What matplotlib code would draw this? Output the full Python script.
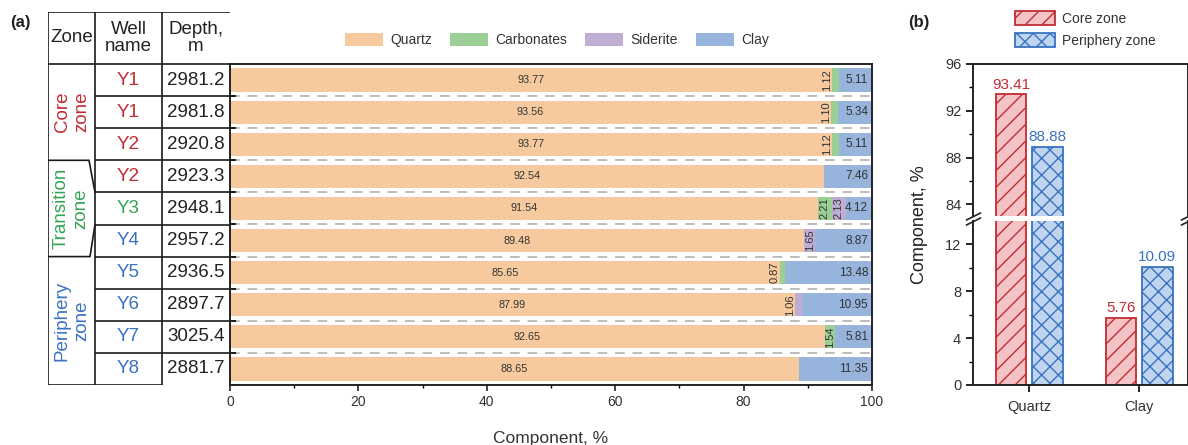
import numpy as np
import matplotlib
matplotlib.use('Agg')
import matplotlib.pyplot as plt
from matplotlib.patches import Patch

plt.rcParams['font.family'] = ['Liberation Sans', 'DejaVu Sans']
plt.rcParams['hatch.linewidth'] = 1.0

# ---- data ----
wells = ['Y1', 'Y1', 'Y2', 'Y2', 'Y3', 'Y4', 'Y5', 'Y6', 'Y7', 'Y8']
depths = ['2981.2', '2981.8', '2920.8', '2923.3', '2948.1', '2957.2',
          '2936.5', '2897.7', '3025.4', '2881.7']
well_zone = ['core', 'core', 'core', 'core', 'trans', 'peri',
             'peri', 'peri', 'peri', 'peri']
quartz = [93.77, 93.56, 93.77, 92.54, 91.54, 89.48, 85.65, 87.99, 92.65, 88.65]
carbonates = [1.12, 1.10, 1.12, 0, 2.21, 0, 0.87, 0, 1.54, 0]
siderite = [0, 0, 0, 0, 2.13, 1.65, 0, 1.06, 0, 0]
clay = [5.11, 5.34, 5.11, 7.46, 4.12, 8.87, 13.48, 10.95, 5.81, 11.35]

comp_names = ['Quartz', 'Clay']
core_vals = [93.41, 5.76]
peri_vals = [88.88, 10.09]

## colours
red = '#c42b33'
green = '#36a455'
blue = '#3a72c2'
zone_col = {'core': red, 'trans': green, 'peri': blue}
c_quartz, c_carb, c_sid, c_clay = '#f6ca9e', '#9bcf96', '#bfaed3', '#96b4dc'
txt = '#333333'

W, H = 1188, 445
fig = plt.figure(figsize=(W / 100, H / 100), dpi=100)

def fx(px):
    return px / W

def fy(py):
    return 1 - py / H

n = len(wells)

# ---- stacked bars (a) ----
ax = fig.add_axes([fx(230), fy(385), fx(642), (385 - 64) / H])
y = np.arange(n)
q = np.array(quartz)
c = np.array(carbonates)
s = np.array(siderite)
cl = np.array(clay)
h = 0.72
ax.barh(y, q, height=h, color=c_quartz, label='Quartz')
ax.barh(y, c, left=q, height=h, color=c_carb, label='Carbonates')
ax.barh(y, s, left=q + c, height=h, color=c_sid, label='Siderite')
ax.barh(y, cl, left=q + c + s, height=h, color=c_clay, label='Clay')

for i in range(n):
    ax.text(q[i] / 2, i, '%.2f' % q[i], ha='center', va='center', fontsize=7.8, color=txt)
    ax.text(99.4, i, '%.2f' % cl[i], ha='right', va='center', fontsize=8.5, color=txt)
    for val, left in ((c[i], q[i]), (s[i], q[i] + c[i])):
        if val <= 0:
            continue
        xpos = left + val / 2 if val > 1.2 else left - 0.75
        ax.text(xpos, i, '%.2f' % val, ha='center', va='center', rotation=90,
                fontsize=8, color=txt)

for b in np.arange(n - 1) + 0.5:
    ax.axhline(b, color='#bdbdbd', lw=1.4, ls=(0, (5, 4)), zorder=0)

ax.set_xlim(0, 100)
ax.set_ylim(n - 0.5, -0.5)
ax.set_xticks(np.arange(0, 101, 20))
ax.set_xticks(np.arange(10, 100, 20), minor=True)
ax.set_yticks(np.arange(n + 1) - 0.5)
ax.set_yticklabels([])
ax.tick_params(axis='x', which='major', direction='out', length=4, width=1.2,
               labelsize=10, colors='#222222', labelcolor=txt)
ax.tick_params(axis='x', which='minor', direction='out', length=2.5, width=1.0)
ax.tick_params(axis='y', direction='in', length=4, width=1.2)
for sp in ax.spines.values():
    sp.set_linewidth(1.4)
    sp.set_color('#222222')
ax.set_xlabel('Component, %', fontsize=12.5, color=txt)
ax.xaxis.set_label_coords(0.5, -(439 - 385) / 321)
ax.xaxis.label.set_va('center')

fig.legend(*ax.get_legend_handles_labels(), loc='center',
           bbox_to_anchor=(fx(557), fy(40)), ncol=4, frameon=False,
           fontsize=10, handlelength=2.75, handleheight=1.15,
           handletextpad=0.5, columnspacing=1.3, labelcolor=txt)

# ---- table on the left ----
tb = fig.add_axes([fx(48), fy(385), fx(182), (385 - 12) / H])
hdr = (64 - 12) / 32.1
tb.set_xlim(0, 182)
tb.set_ylim(0, n + hdr)
tb.axis('off')
lw = 1.2
lk = dict(color='#1a1a1a', lw=lw, solid_capstyle='butt')
tb.plot([0, 182], [n + hdr, n + hdr], **lk)
tb.plot([0, 182], [n, n], **lk)
tb.plot([0, 0], [0, n + hdr], **lk)
tb.plot([47, 47], [0, n + hdr], **lk)
tb.plot([114, 114], [0, n + hdr], **lk)
tb.plot([0, 114], [0, 0], **lk)
for k in range(1, n):
    tb.plot([47, 182], [k, k], **lk)
# zone boxes (transition box has slanted right side)
tb.plot([0, 41, 47], [7, 7, 6], **lk)
tb.plot([47, 42, 0], [5, 4, 4], **lk)

tb.text(23.5, n + hdr / 2, 'Zone', ha='center', va='center', fontsize=13.5, color='#222222')
tb.text(80.5, n + hdr / 2, 'Well\nname', ha='center', va='center', fontsize=13.5,
        color='#222222', linespacing=1.05)
tb.text(148, n + hdr / 2, 'Depth,\nm', ha='center', va='center', fontsize=13.5,
        color='#222222', linespacing=1.05)
for i in range(n):
    yc = n - i - 0.5
    tb.text(80.5, yc, wells[i], ha='center', va='center', fontsize=13.5,
            color=zone_col[well_zone[i]])
    tb.text(148, yc, depths[i], ha='center', va='center', fontsize=13.5, color='#222222')
tb.text(24, 8.5, 'Core\nzone', rotation=90, ha='center', va='center', ma='center',
        fontsize=13.5, color=red, linespacing=1.2)
tb.text(23, 5.5, 'Transition\nzone', rotation=90, ha='center', va='center', ma='center',
        fontsize=13.5, color=green, linespacing=1.2)
tb.text(24, 2, 'Periphery\nzone', rotation=90, ha='center', va='center', ma='center',
        fontsize=13.5, color=blue, linespacing=1.2)

fig.text(fx(10), fy(22), '(a)', fontsize=12, fontweight='bold', va='center', color='#222222')
fig.text(fx(908), fy(22), '(b)', fontsize=12, fontweight='bold', va='center', color='#222222')

# ---- broken-axis bars (b) ----
axu = fig.add_axes([fx(973), fy(216), fx(215), (216 - 64) / H])
axl = fig.add_axes([fx(973), fy(385), fx(215), (385 - 221) / H])
x = np.arange(len(comp_names))
bw, off = 0.28, 0.165
core_style = dict(facecolor='#f4c3c5', edgecolor=red, hatch='//', lw=1.3)
peri_style = dict(facecolor='#bed4ef', edgecolor=blue, hatch='xx', lw=1.3)
for a in (axu, axl):
    a.bar(x - off, core_vals, bw, **core_style)
    a.bar(x + off, peri_vals, bw, **peri_style)
    a.set_xlim(-0.51, 1.445)
    for sp in a.spines.values():
        sp.set_linewidth(1.4)
        sp.set_color('#222222')
    a.tick_params(axis='y', which='major', direction='out', length=5, width=1.2,
                  labelsize=10.5, labelcolor=txt)
    a.tick_params(axis='y', which='minor', direction='out', length=3, width=1.0)

axu.set_ylim(83, 96)
axu.set_yticks([84, 88, 92, 96])
axu.set_yticks([86, 90, 94], minor=True)
axu.spines['bottom'].set_visible(False)
axu.tick_params(axis='x', bottom=False, labelbottom=False)
axl.set_ylim(0, 14)
axl.set_yticks([0, 4, 8, 12])
axl.set_yticks([2, 6, 10], minor=True)
axl.spines['top'].set_visible(False)
axl.set_xticks(x)
axl.set_xticklabels(comp_names)
axl.tick_params(axis='x', direction='out', length=5, width=1.2, labelsize=10.5,
                labelcolor=txt, pad=6)

for i in range(len(x)):
    for val, xo, col in ((core_vals[i], -off, red), (peri_vals[i], off, blue)):
        a = axu if val > 14 else axl
        a.annotate('%.2f' % val, (x[i] + xo, val), xytext=(0, 2),
                   textcoords='offset points', ha='center', va='bottom',
                   fontsize=11, color=col)

# break marks
mk = dict(marker=[(-1, -0.5), (1, 0.5)], markersize=11, linestyle='none',
          color='#222222', mec='#222222', mew=1.2, clip_on=False)
axu.plot([0, 1], [0, 0], transform=axu.transAxes, **mk)
axl.plot([0, 1], [1, 1], transform=axl.transAxes, **mk)

fig.text(fx(920), fy(225), 'Component, %', rotation=90, ha='center', va='center',
         fontsize=13, color='#222222')

fig.legend(handles=[Patch(label='Core zone', **core_style),
                    Patch(label='Periphery zone', **peri_style)],
           loc='upper left', bbox_to_anchor=(fx(1015), fy(11)), frameon=False,
           fontsize=10, handlelength=2.9, handleheight=1.2, handletextpad=0.5,
           labelspacing=0.5, borderpad=0, borderaxespad=0, labelcolor=txt)

fig.savefig('out.png', dpi=100)
